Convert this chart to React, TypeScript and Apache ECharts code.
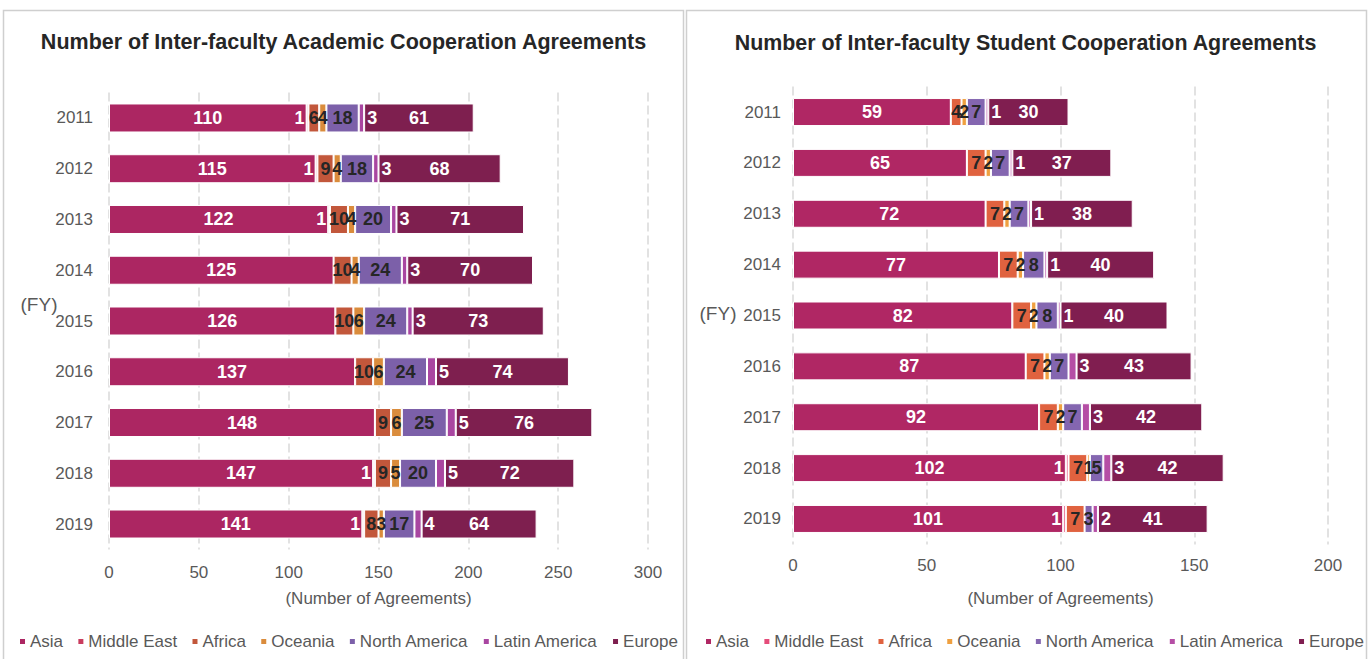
import React, { useEffect, useRef } from "react";
import * as echarts from "echarts";

const years = ["2011", "2012", "2013", "2014", "2015", "2016", "2017", "2018", "2019"];
const regions = ["Asia", "Middle East", "Africa", "Oceania", "North America", "Latin America", "Europe"];

// Academic cooperation agreements
const acAsia = [110, 115, 122, 125, 126, 137, 148, 147, 141];
const acMiddleEast = [1, 1, 1, 0, 0, 0, 0, 1, 1];
const acAfrica = [6, 9, 10, 10, 10, 10, 9, 9, 8];
const acOceania = [4, 4, 4, 4, 6, 6, 6, 5, 3];
const acNorthAmerica = [18, 18, 20, 24, 24, 24, 25, 20, 17];
const acLatinAmerica = [3, 3, 3, 3, 3, 5, 5, 5, 4];
const acEurope = [61, 68, 71, 70, 73, 74, 76, 72, 64];

// Student cooperation agreements
const stAsia = [59, 65, 72, 77, 82, 87, 92, 102, 101];
const stMiddleEast = [0, 0, 0, 0, 0, 0, 0, 1, 1];
const stAfrica = [4, 7, 7, 7, 7, 7, 7, 7, 7];
const stOceania = [2, 2, 2, 2, 2, 2, 2, 1, 0];
const stNorthAmerica = [7, 7, 7, 8, 8, 7, 7, 5, 3];
const stLatinAmerica = [1, 1, 1, 1, 1, 3, 3, 3, 2];
const stEurope = [30, 37, 38, 40, 40, 43, 42, 42, 41];

const leftColors = ["#AC2662", "#C93C5E", "#C2573B", "#DA8C3C", "#7C60A9", "#A946A1", "#7E1F4F"];
const rightColors = ["#B02764", "#E54C7A", "#E0623F", "#EFA040", "#8466B0", "#B54EA5", "#801E50"];

const FONT = "'Liberation Sans', Arial, sans-serif";

function labelFor(i: number) {
  const base: any = {
    show: true,
    fontFamily: FONT,
    fontSize: 18,
    fontWeight: "bold",
    formatter: (p: any) => (p.value ? String(p.value) : ""),
  };
  if (i === 0 || i === 6) return { ...base, position: "inside", color: "#ffffff" };
  if (i === 1) return { ...base, position: "left", distance: 2, color: "#ffffff" };
  if (i === 5) return { ...base, position: "right", distance: 3, color: "#ffffff" };
  return { ...base, position: "inside", color: "#262626" };
}

export default function App() {
  const ref = useRef<HTMLDivElement>(null);
  useEffect(() => {
    document.body.style.margin = "0";
    const chart = echarts.init(ref.current!, undefined, { renderer: "svg" });
    const acData = [acAsia, acMiddleEast, acAfrica, acOceania, acNorthAmerica, acLatinAmerica, acEurope];
    const stData = [stAsia, stMiddleEast, stAfrica, stOceania, stNorthAmerica, stLatinAmerica, stEurope];

    const series: any[] = [];
    regions.forEach((name, i) => {
      series.push({
        type: "bar",
        name,
        stack: "ac",
        xAxisIndex: 0,
        yAxisIndex: 0,
        barWidth: 29,
        data: acData[i],
        itemStyle: { color: leftColors[i], borderColor: "#ffffff", borderWidth: 1 },
        label: labelFor(i),
      });
    });
    regions.forEach((name, i) => {
      series.push({
        type: "bar",
        name,
        stack: "st",
        xAxisIndex: 1,
        yAxisIndex: 1,
        barWidth: 28,
        data: stData[i],
        itemStyle: { color: rightColors[i], borderColor: "#ffffff", borderWidth: 1 },
        label: labelFor(i),
      });
    });

    const xAxisBase = (max: number, margin: number, gridIndex: number) => ({
      type: "value",
      gridIndex,
      min: 0,
      max,
      interval: 50,
      axisLine: { show: false },
      axisTick: { show: false },
      axisLabel: { color: "#595959", fontFamily: FONT, fontSize: 17, margin },
      splitLine: { show: true, lineStyle: { color: "#D9D9D9", width: 1.5, type: [9, 4] } },
    });
    const yAxisBase = (margin: number, gridIndex: number) => ({
      type: "category",
      gridIndex,
      inverse: true,
      data: years,
      axisLine: { show: false },
      axisTick: { show: false },
      axisLabel: { color: "#595959", fontFamily: FONT, fontSize: 17, margin },
    });

    const legendBase = (left: number, colors: string[]) => ({
      left,
      top: 633,
      width: 680,
      padding: 0,
      icon: "rect",
      itemWidth: 7,
      itemHeight: 7,
      itemGap: 13.3,
      textStyle: { color: "#595959", fontFamily: FONT, fontSize: 17, padding: [0, 0, 0, -1] },
      data: regions.map((n, i) => ({ name: n, itemStyle: { color: colors[i] } })),
    });

    const txt = (text: string, x: number, y: number, size: number, bold: boolean, color: string) => ({
      type: "text",
      x,
      y,
      silent: true,
      style: {
        text,
        fill: color,
        font: `${bold ? "bold " : ""}${size}px ${FONT}`,
        align: "center",
        verticalAlign: "middle",
        textAlign: "center",
        textVerticalAlign: "middle",
      },
    });

    chart.setOption({
      animation: false,
      backgroundColor: "#ffffff",
      grid: [
        { left: 109, right: 1370 - 648, top: 92.6, bottom: 659 - 549.4 },
        { left: 793, right: 1370 - 1328, top: 86.6, bottom: 659 - 544.4 },
      ],
      xAxis: [xAxisBase(300, 15, 0), xAxisBase(200, 13, 1)],
      yAxis: [yAxisBase(16, 0), yAxisBase(12, 1)],
      legend: [legendBase(18, leftColors), legendBase(704, rightColors)],
      series,
      graphic: [
        {
          type: "rect",
          shape: { x: 3.5, y: 10.5, width: 680, height: 660 },
          style: { fill: "none", stroke: "#CFCFCF", lineWidth: 1.5 },
          silent: true,
          z: -10,
        },
        {
          type: "rect",
          shape: { x: 686.5, y: 10.5, width: 680, height: 660 },
          style: { fill: "none", stroke: "#CFCFCF", lineWidth: 1.5 },
          silent: true,
          z: -10,
        },
        txt("Number of Inter-faculty Academic Cooperation Agreements", 343.5, 42, 21.5, true, "#262626"),
        txt("Number of Inter-faculty Student Cooperation Agreements", 1025.5, 43, 21.4, true, "#262626"),
        txt("(Number of Agreements)", 378.5, 598, 17, false, "#595959"),
        txt("(Number of Agreements)", 1060.5, 598, 17, false, "#595959"),
        txt("(FY)", 39, 304, 19, false, "#595959"),
        txt("(FY)", 718, 313, 19, false, "#595959"),
      ],
    });
    return () => chart.dispose();
  }, []);
  return <div ref={ref} style={{ width: 1370, height: 659 }} />;
}
